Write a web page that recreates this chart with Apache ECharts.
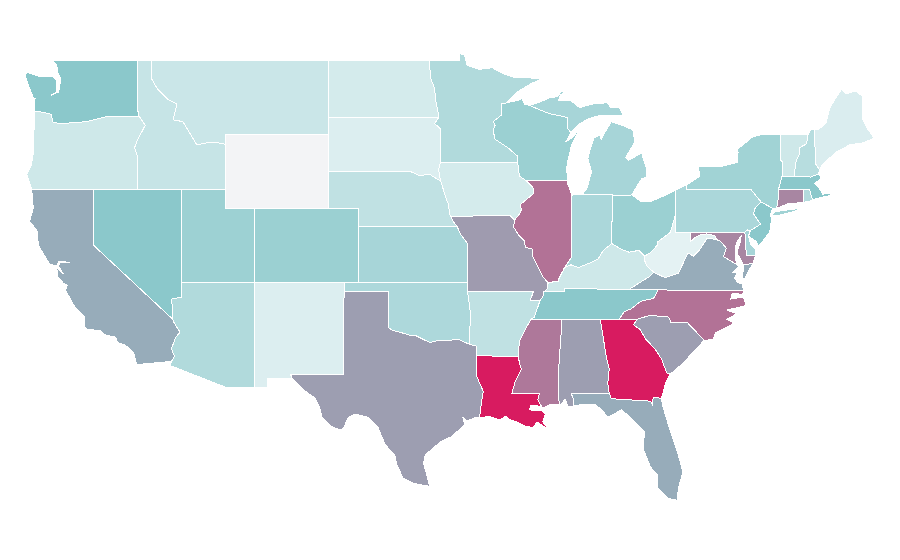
<!DOCTYPE html>
<html>
<head>
<meta charset="utf-8">
<style>
html,body{margin:0;padding:0;background:#fff}
#container{width:900px;height:560px}
#container path{shape-rendering:crispEdges}
</style>
<script src="https://cdn.jsdelivr.net/npm/echarts@6/dist/echarts.min.js"></script>
</head>
<body>
<div id="container"></div>
<script>
let chart = echarts.init(document.getElementById('container'), null, {renderer: 'svg'});

// values per state. WY has no value
var west = ['WA', 'OR', 'CA', 'NV', 'ID', 'MT', 'WY', 'UT', 'CO', 'AZ', 'NM'];
var westValues = [50, 17, 58, 50, 21, 19, null, 41, 42, 31, 10];
var plains = ['ND', 'SD', 'NE', 'KS', 'OK', 'TX', 'MN', 'IA', 'MO', 'AR', 'LA'];
var plainsValues = [14, 10, 24, 36, 33, 62, 31, 14, 63, 24, 100];
var midEast = ['WI', 'IL', 'IN', 'MI', 'OH', 'KY', 'TN', 'MS', 'AL', 'GA', 'FL'];
var midEastValues = [42, 75, 34, 36, 42, 17, 50, 73, 62, 100, 58];
var east = ['SC', 'NC', 'VA', 'WV', 'MD', 'DE', 'PA', 'NJ', 'NY', 'CT', 'RI', 'MA', 'VT', 'NH', 'ME'];
var eastValues = [62, 75, 58, 6, 69, 36, 34, 50, 39, 69, 30, 50, 17, 28, 11];

// shared borders, lon,lat
var b = {
  wa_top: '-122.76,49 -117.03,49',
  wa_coast: '-122.76,49 -122.5,48.75 -122.45,48.35 -122.25,48.05 -122.3,47.6 -122.4,47.3 -122.9,47.12 -122.55,47.3 -122.5,47.7 -122.55,47.95 -122.8,48.13 -123.15,48.15 -123.7,48.15 -124.55,48.38 -124.65,48.17 -124.4,47.6 -124.1,47 -123.95,46.95 -124.05,46.85 -124,46.27',
  wa_id: '-117.03,49 -117.04,46.42 -116.92,46',
  or_wa: '-124,46.27 -123.4,46.2 -122.9,46.1 -122.75,45.65 -122.2,45.6 -121.2,45.65 -120.5,45.7 -119.3,45.93 -118.98,46 -116.92,46',
  or_coast: '-124,46.27 -124.05,45.25 -124.1,44 -124.25,43.3 -124.55,42.84 -124.2,42',
  or_id: '-116.92,46 -116.5,45.5 -117,44.75 -117.22,44.3 -117.03,43.8 -117.03,42',
  ca_or: '-124.2,42 -120,42',
  nv_or: '-120,42 -117.03,42',
  nv_id: '-117.03,42 -114.05,42',
  ut_id: '-114.05,42 -111.05,42',
  ca_nv: '-120,42 -120,39 -114.63,35',
  ca_az: '-114.63,35 -114.57,34.85 -114.14,34.3 -114.45,34 -114.72,33.4 -114.52,33 -114.72,32.72',
  ca_coast: '-114.72,32.72 -117.07,32.55 -117.3,33.2 -117.85,33.6 -118.4,33.75 -118.5,34.03 -119.2,34.15 -119.6,34.4 -120.45,34.45 -120.65,34.6 -120.65,35.15 -121.3,35.7 -121.9,36.55 -121.8,36.85 -122.05,36.95 -122.45,37.3 -122.5,37.78 -122.05,37.45 -122.4,37.9 -122.3,38.05 -121.6,38.07 -122.35,38.15 -122.5,37.88 -123,38 -123.75,39 -123.85,39.8 -124.35,40.3 -124.1,41 -124.2,42',
  nv_ut: '-114.05,42 -114.05,37',
  nv_az: '-114.05,37 -114.05,36.2 -114.7,36.1 -114.63,35',
  ut_az: '-114.05,37 -109.05,37',
  az_nm: '-109.05,37 -109.05,31.33',
  az_south: '-109.05,31.33 -111.07,31.33 -114.82,32.5 -114.72,32.72',
  ut_wy: '-111.05,42 -111.05,41 -109.05,41',
  ut_co: '-109.05,41 -109.05,37',
  co_nm: '-109.05,37 -103,37',
  co_ok: '-103,37 -102.05,37',
  nm_ok: '-103,37 -103,36.5',
  nm_tx: '-103,36.5 -103.06,32 -106.62,32 -106.53,31.78',
  nm_south: '-106.53,31.78 -108.21,31.78 -108.21,31.33 -109.05,31.33',
  id_top: '-117.03,49 -116.05,49',
  id_mt: '-116.05,49 -116.05,48 -115.7,47.5 -114.95,46.9 -114.35,46.65 -114.6,45.8 -113.95,45.7 -113.45,45.05 -113,44.45 -112.3,44.55 -111.5,44.55 -111.05,44.47',
  id_wy: '-111.05,44.47 -111.05,42',
  mt_top: '-116.05,49 -104.05,49',
  mt_wyw: '-111.05,45 -111.05,44.47',
  mt_wy: '-111.05,45 -104.05,45',
  mt_nd: '-104.05,49 -104.05,45.94',
  mt_sd: '-104.05,45.94 -104.05,45',
  sd_wy: '-104.05,45 -104.05,43',
  ne_wy: '-104.05,43 -104.05,41',
  co_wy: '-109.05,41 -104.05,41',
  co_ne: '-104.05,41 -102.05,41 -102.05,40',
  co_ks: '-102.05,40 -102.05,37',
  nd_top: '-104.05,49 -97.23,49',
  nd_sd: '-104.05,45.94 -96.56,45.94',
  nd_mn: '-97.23,49 -97.1,48 -96.85,47.5 -96.8,46.9 -96.56,46 -96.56,45.94',
  sd_mn: '-96.56,45.94 -96.85,45.6 -96.45,45.3 -96.45,43.5',
  sd_ia: '-96.45,43.5 -96.58,43.1 -96.45,42.49',
  sd_ne: '-104.05,43 -98.5,43 -97.9,42.78 -97.2,42.85 -96.7,42.6 -96.45,42.49',
  ne_ia: '-96.45,42.49 -96.27,42.05 -96.1,41.6 -95.9,41.2 -95.85,40.68 -95.77,40.58',
  ne_mo: '-95.77,40.58 -95.55,40.26 -95.31,40',
  ne_ks: '-102.05,40 -95.31,40',
  ks_mo: '-95.31,40 -95.1,39.6 -94.9,39.4 -94.62,39.1 -94.62,37',
  ks_ok: '-102.05,37 -94.62,37',
  mo_ok: '-94.62,37 -94.62,36.5',
  ar_ok: '-94.62,36.5 -94.43,35.4 -94.48,33.64',
  ok_tx: '-103,36.5 -100,36.5 -100,34.56 -99.7,34.4 -99.2,34.3 -98.6,34.15 -98.1,34.1 -97.6,33.9 -97.15,33.75 -96.6,33.85 -95.9,33.87 -95.2,33.9 -94.48,33.64',
  ar_tx: '-94.48,33.64 -94.04,33.55 -94.04,33.02',
  tx_la: '-94.04,33.02 -94.04,32 -93.8,31.55 -93.55,31.1 -93.7,30.4 -93.72,30.05 -93.84,29.69',
  tx_coast: '-93.84,29.69 -94.1,29.67 -94.7,29.5 -94.95,29.7 -94.8,29.3 -95.7,28.65 -96.4,28.4 -97,28 -97.5,27.65 -97.6,27.2 -97.4,26.6 -97.2,25.96',
  rio: '-97.2,25.96 -98.2,26.1 -99,26.4 -99.45,27.2 -99.55,27.65 -100.2,28.2 -100.7,29.15 -101.4,29.7 -102.25,29.87 -102.7,29.7 -103.05,29.1 -103.25,29 -103.85,29.2 -104.5,29.7 -104.65,30.2 -105,30.75 -105.8,31.2 -106.53,31.78',
  mn_top: '-97.23,49 -95.15,49 -95.15,49.38 -94.82,49.32 -94.64,48.74 -93.8,48.53 -92.95,48.62 -92.2,48.3 -91.4,48.07 -90.75,48.1 -89.6,48',
  mn_shore: '-89.6,48 -90.33,47.75 -91.26,47.29 -92.02,46.71',
  mn_wi: '-92.02,46.71 -92.29,46.66 -92.29,46.08 -92.87,45.7 -92.75,45.5 -92.88,45.2 -92.75,44.75 -91.9,44.3 -91.25,43.85 -91.22,43.5',
  mn_ia: '-96.45,43.5 -91.22,43.5',
  ia_wi: '-91.22,43.5 -91.1,42.75 -90.64,42.51',
  ia_il: '-90.64,42.51 -90.15,42.1 -90.15,41.8 -90.6,41.5 -91.05,41.2 -90.95,40.95 -91.1,40.7 -91.42,40.38',
  ia_mo: '-95.77,40.58 -91.73,40.61 -91.42,40.38',
  mo_il: '-91.42,40.38 -91.5,40 -91.1,39.5 -90.75,39.25 -90.7,38.9 -90.2,38.8 -90.2,38.4 -89.9,37.95 -89.5,37.3 -89.15,36.98',
  mo_ky: '-89.15,36.98 -89.2,36.65 -89.42,36.5',
  mo_tn: '-89.42,36.5 -89.5,36.25 -89.7,36',
  mo_ar: '-94.62,36.5 -90.15,36.5 -90.37,36 -89.7,36',
  ar_tn: '-89.7,36 -90.1,35.1 -90.3,35',
  ar_ms: '-90.3,35 -90.6,34.6 -91.05,33.9 -91.15,33.4 -91.17,33',
  ar_la: '-94.04,33.02 -91.17,33',
  la_ms: '-91.17,33 -91.08,32.55 -90.95,32.3 -91.4,31.6 -91.6,31 -89.73,31 -89.85,30.65 -89.53,30.18',
  la_coast: '-89.53,30.18 -89.75,30.3 -90.35,30.35 -90.4,30.1 -89.85,30.05 -89.6,30.05 -89.35,29.85 -89.5,29.45 -89.15,29.05 -89.9,29.45 -90.15,29.15 -90.7,29.2 -91.3,29.45 -91.7,29.55 -92.05,29.75 -92.4,29.55 -93.1,29.73 -93.84,29.69',
  ms_coast: '-88.4,30.37 -89,30.38 -89.53,30.18',
  ms_al: '-88.4,30.37 -88.47,31.9 -88.2,35',
  tn_ms: '-90.3,35 -88.2,35',
  tn_al: '-88.2,35 -85.6,34.98',
  tn_ga: '-85.6,34.98 -84.32,34.99',
  tn_nc: '-84.32,34.99 -84,35.4 -83.5,35.57 -82.9,35.95 -82.6,36.03 -82,36.12 -81.68,36.59',
  tn_ky: '-89.42,36.5 -88.07,36.5 -88.07,36.68 -83.68,36.6',
  tn_va: '-83.68,36.6 -81.68,36.59',
  nc_va: '-81.68,36.59 -75.87,36.55',
  ky_va: '-83.68,36.6 -83.1,36.9 -82.3,37.3 -81.97,37.54',
  ky_wv: '-81.97,37.54 -82.4,37.85 -82.6,38.17 -82.59,38.42',
  ky_oh: '-82.59,38.42 -83,38.73 -83.65,38.63 -84.2,38.8 -84.82,39.1',
  ky_in: '-84.82,39.1 -85.4,38.73 -85.75,38.27 -86.3,38.05 -87.1,37.8 -87.6,37.95 -88.03,37.8',
  ky_il: '-88.03,37.8 -88.45,37.15 -88.45,37.07 -89.15,36.98',
  in_il: '-88.03,37.8 -87.53,38.4 -87.53,39.35 -87.53,41.72',
  il_shore: '-87.53,41.72 -87.8,42.3 -87.8,42.49',
  in_shore: '-87.53,41.72 -87.2,41.75 -86.82,41.76',
  il_wi: '-90.64,42.51 -87.8,42.49',
  wi_shore: '-87.8,42.49 -87.9,43.1 -87.8,43.6 -87.55,44.45 -87.05,45.25 -87.5,44.85 -87.95,44.6 -87.6,45.1',
  wi_mi: '-87.6,45.1 -87.85,45.35 -87.8,45.9 -88.1,45.97 -89.1,46.14 -90.4,46.57',
  wi_sup: '-90.4,46.57 -90.75,46.65 -90.95,46.95 -91.2,46.85 -92.02,46.71',
  mi_up: '-90.4,46.57 -89.6,46.8 -89,47 -88.5,47.05 -88.3,47.3 -87.8,47.45 -88.3,47.15 -88.45,46.85 -87.65,46.87 -87,46.45 -86.2,46.65 -85.15,46.72 -84.9,46.48 -84.3,46.45 -84.05,46.05 -84.95,46.05 -85.6,46.05 -86.4,45.85 -87.1,45.55 -87.6,45.1',
  mi_lp: '-86.82,41.76 -86.5,42.1 -86.2,43 -86.45,43.7 -86.3,44.2 -86.05,44.8 -85.6,45 -85.55,44.75 -85.2,45.25 -84.85,45.7 -84.1,45.5 -83.4,45.25 -83.25,44.6 -83.9,43.75 -83.7,43.6 -82.8,44 -82.45,43.1 -82.5,42.7 -82.8,42.6 -83.2,42.1 -83.45,41.73',
  mi_oh: '-83.45,41.73 -84.8,41.7',
  mi_in: '-84.8,41.7 -84.8,41.76 -86.82,41.76',
  in_oh: '-84.8,41.7 -84.82,39.1',
  oh_lake: '-83.45,41.73 -82.9,41.4 -82.1,41.4 -81.1,41.75 -80.52,41.98',
  oh_pa: '-80.52,41.98 -80.52,40.64',
  oh_wv: '-80.52,40.64 -80.7,40.1 -80.85,39.7 -81.7,39.2 -81.75,39 -82.2,38.6 -82.59,38.42',
  pa_lake: '-80.52,41.98 -79.76,42.27',
  pa_ny: '-79.76,42.27 -79.76,42 -75.35,42 -74.7,41.36',
  pa_nj: '-74.7,41.36 -75.13,40.98 -75.2,40.7 -74.72,40.15 -75.42,39.8',
  pa_de: '-75.42,39.8 -75.6,39.84 -75.79,39.72',
  pa_md: '-75.79,39.72 -79.48,39.72',
  pa_wv: '-79.48,39.72 -80.52,39.72 -80.52,40.64',
  wv_md: '-79.48,39.72 -79.48,39.2 -79.1,39.47 -78.75,39.6 -78.4,39.62 -77.83,39.53 -77.72,39.32',
  wv_va: '-77.72,39.32 -78.35,39.4 -78.85,38.77 -79.3,38.42 -79.65,38.6 -80.3,37.5 -81.2,37.25 -81.97,37.54',
  md_va: '-77.72,39.32 -77.45,39.22 -77.05,38.85 -77.25,38.4 -76.95,38.25 -76.3,37.95',
  md_bay: '-76.3,37.95 -76.45,38.3 -76.45,38.9 -76.3,39.25 -76.05,39.5 -76.1,39.2 -76.25,38.85 -76.3,38.55 -76.1,38.3 -75.9,37.95 -75.62,37.98 -75.25,38.03 -75.05,38.45',
  md_de: '-75.05,38.45 -75.69,38.46 -75.79,39.72',
  de_coast: '-75.05,38.45 -75.1,38.8 -75.4,39.05 -75.55,39.5 -75.42,39.8',
  va_coast: '-75.87,36.55 -75.97,36.9 -76.3,37 -76.5,37.25 -76.3,37.55 -76.6,37.55 -76.25,37.85 -76.3,37.95',
  va_shore: '-75.62,37.98 -75.25,38.03 -75.85,37.15 -75.95,37.3 -75.87,37.95 -75.62,37.98',
  nc_coast: '-75.87,36.55 -75.95,36.35 -76.65,36.4 -76.75,36.1 -75.9,36.2 -75.7,35.75 -77,35.5 -76.35,35.3 -77,35 -76.5,34.8 -77.8,34.25 -77.95,33.9 -78.55,33.86',
  nc_sc: '-78.55,33.86 -79.67,34.8 -80.8,34.82 -80.95,35.1 -81.05,35.15 -82.3,35.2 -83.11,35',
  nc_ga: '-83.11,35 -84.32,34.99',
  sc_ga: '-83.11,35 -83.35,34.7 -82.9,34.45 -82.55,33.95 -81.9,33.4 -81.45,32.85 -81.1,32.1 -80.87,32.03',
  sc_coast: '-78.55,33.86 -79.1,33.4 -79.9,32.7 -80.45,32.3 -80.87,32.03',
  ga_coast: '-80.87,32.03 -81.15,31.6 -81.45,30.72',
  ga_fl: '-81.45,30.72 -82.02,30.78 -82.05,30.37 -82.2,30.57 -84.86,30.7 -85,31',
  ga_al: '-85,31 -85.1,31.55 -85,32.3 -85.18,32.87 -85.6,34.98',
  al_fl: '-85,31 -87.6,31 -87.4,30.65 -87.45,30.3',
  al_coast: '-87.45,30.3 -87.8,30.25 -88,30.7 -88.3,30.35 -88.4,30.37',
  fl_coast: '-81.45,30.72 -81.4,30.4 -80.95,29.2 -80.4,27.9 -80,26.75 -80.3,25.85 -80.4,25.2 -81,25.3 -81.7,25.85 -81.7,26.55 -82.2,27 -82.7,28 -82.6,28.9 -83.25,29.45 -84.15,30.1 -85.1,29.7 -85.5,30.1 -86,30.4 -86.8,30.4 -87.45,30.3',
  ny_lake: '-79.76,42.27 -78.85,42.75 -78.95,43.25 -77.5,43.25 -76.3,43.5 -76.25,44.05 -76.3,44.2 -75.3,44.85 -74.7,45 -73.35,45.01',
  ny_vt: '-73.35,45.01 -73.35,44.5 -73.4,43.6 -73.25,43.55 -73.27,42.75',
  ny_ma: '-73.27,42.75 -73.5,42.05',
  ny_ct: '-73.5,42.05 -73.55,41.3 -73.65,41',
  ny_nj: '-74.7,41.36 -73.9,41',
  long_island: '-74,40.6 -73.75,40.82 -72.6,40.95 -72.3,41.12 -72.5,40.95 -71.87,41.07 -72.5,40.82 -73.5,40.62 -74,40.6',
  nj_coast: '-73.9,41 -74.05,40.65 -73.98,40.4 -74.1,39.75 -74.4,39.4 -74.9,38.93 -75,39.2 -75.55,39.5 -75.42,39.8',
  ct_ma: '-73.5,42.05 -71.8,42.02',
  ct_ri: '-71.8,42.02 -71.79,41.6 -71.85,41.32',
  ct_coast: '-71.85,41.32 -72.9,41.25 -73.65,41',
  ri_ma: '-71.8,42.02 -71.38,42.02 -71.33,41.78 -71.2,41.5 -71.12,41.5',
  ri_coast: '-71.12,41.5 -71.4,41.4 -71.85,41.32',
  ma_vt: '-73.27,42.75 -72.46,42.73',
  ma_nh: '-72.46,42.73 -71.3,42.7 -70.82,42.87',
  ma_coast: '-70.82,42.87 -70.6,42.65 -71.05,42.35 -70.65,42 -70.5,41.78 -70,41.8 -70.1,42.05 -69.95,41.7 -70.6,41.6 -71.12,41.5',
  vt_top: '-73.35,45.01 -71.5,45.01',
  vt_nh: '-71.5,45.01 -71.6,44.5 -72.05,44.3 -72.05,44 -72.3,43.6 -72.46,42.73',
  nh_top: '-71.5,45.01 -71.3,45.3 -71.08,45.3',
  nh_me: '-71.08,45.3 -70.98,43.4 -70.7,43.07',
  nh_coast: '-70.7,43.07 -70.82,42.87',
  me_out: '-71.08,45.3 -70.85,45.25 -70.3,45.6 -70,46.5 -69.23,47.46 -68.9,47.2 -68.3,47.36 -67.79,47.07 -67.79,45.8 -67.45,45.3 -67,44.8 -67.8,44.55 -68.65,44.45 -69.6,44.05 -70.55,43.35 -70.7,43.07'
};

// a state is its borders walked in order, - means walk it backwards
var rings = {
  WA: ['wa_top wa_id -or_wa -wa_coast'],
  OR: ['or_wa or_id -nv_or -ca_or -or_coast'],
  CA: ['ca_or ca_nv ca_az ca_coast'],
  NV: ['nv_or nv_id nv_ut nv_az -ca_nv'],
  ID: ['id_top id_mt id_wy -ut_id -nv_id -or_id -wa_id'],
  MT: ['mt_top mt_nd mt_sd -mt_wy mt_wyw -id_mt'],
  WY: ['mt_wy sd_wy ne_wy -co_wy -ut_wy -id_wy -mt_wyw'],
  UT: ['ut_id ut_wy ut_co -ut_az -nv_ut'],
  CO: ['co_wy co_ne co_ks -co_ok -co_nm -ut_co'],
  AZ: ['ut_az az_nm az_south -ca_az -nv_az'],
  NM: ['co_nm nm_ok nm_tx nm_south -az_nm'],
  ND: ['nd_top nd_mn -nd_sd -mt_nd'],
  SD: ['nd_sd sd_mn sd_ia -sd_ne -sd_wy -mt_sd'],
  NE: ['sd_ne ne_ia ne_mo -ne_ks -co_ne -ne_wy'],
  KS: ['ne_ks ks_mo -ks_ok -co_ks'],
  OK: ['-nm_ok co_ok ks_ok mo_ok ar_ok -ok_tx'],
  TX: ['ok_tx ar_tx tx_la tx_coast rio -nm_tx'],
  MN: ['mn_top mn_shore mn_wi -mn_ia -sd_mn -nd_mn'],
  IA: ['mn_ia ia_wi ia_il -ia_mo -ne_ia -sd_ia'],
  MO: ['ia_mo mo_il mo_ky mo_tn -mo_ar -mo_ok -ks_mo -ne_mo'],
  AR: ['mo_ar ar_tn ar_ms -ar_la -ar_tx -ar_ok'],
  LA: ['ar_la la_ms la_coast -tx_la'],
  WI: ['mn_wi ia_wi il_wi wi_shore wi_mi wi_sup'],
  IL: ['il_wi -il_shore -in_il ky_il -mo_il -ia_il'],
  IN: ['in_shore -mi_in in_oh ky_in in_il'],
  MI: ['mi_up wi_mi', 'mi_lp mi_oh mi_in'],
  OH: ['oh_lake oh_pa oh_wv ky_oh -in_oh -mi_oh'],
  KY: ['-mo_ky -ky_il -ky_in -ky_oh -ky_wv -ky_va -tn_ky'],
  TN: ['tn_ky tn_va -tn_nc -tn_ga -tn_al -tn_ms -ar_tn -mo_tn'],
  MS: ['tn_ms -ms_al ms_coast -la_ms -ar_ms'],
  AL: ['tn_al -ga_al al_fl al_coast ms_al'],
  GA: ['tn_ga -nc_ga sc_ga ga_coast ga_fl ga_al'],
  FL: ['fl_coast -al_fl -ga_fl'],
  SC: ['-nc_sc sc_coast -sc_ga'],
  NC: ['nc_va nc_coast nc_sc nc_ga tn_nc'],
  VA: ['nc_va va_coast -md_va wv_va -ky_va tn_va', 'va_shore'],
  WV: ['-oh_wv -pa_wv wv_md wv_va ky_wv'],
  MD: ['-pa_md -md_de -md_bay -md_va -wv_md'],
  DE: ['pa_de -md_de de_coast'],
  PA: ['pa_lake pa_ny pa_nj pa_de pa_md pa_wv -oh_pa'],
  NJ: ['ny_nj nj_coast -pa_nj'],
  NY: ['ny_lake ny_vt ny_ma ny_ct -ny_nj -pa_ny', 'long_island'],
  CT: ['ct_ma ct_ri ct_coast -ny_ct'],
  RI: ['ri_ma ri_coast -ct_ri'],
  MA: ['ma_vt ma_nh ma_coast -ri_ma -ct_ma -ny_ma'],
  VT: ['vt_top vt_nh -ma_vt -ny_vt'],
  NH: ['nh_top nh_me nh_coast -ma_nh -vt_nh'],
  ME: ['me_out -nh_me']
};

function walk(spec) {
    var pts = [];
    spec.split(' ').forEach(function (part) {
        var back = part[0] == '-';
        var line = b[back ? part.slice(1) : part].split(' ').map(function (p) {
            return p.split(',').map(Number);
        });
        if (back) { line.reverse(); }
        pts = pts.concat(line);
    });
    pts.push(pts[0]);
    return pts;
}

var usa = {type: 'FeatureCollection', features: []};
for (var s in rings) {
    usa.features.push({
        type: 'Feature',
        properties: {name: s},
        geometry: {type: 'MultiPolygon', coordinates: rings[s].map(function (r) { return [walk(r)]; })}
    });
}
echarts.registerMap('USA', usa);

var names = west.concat(plains, midEast, east);
var values = westValues.concat(plainsValues, midEastValues, eastValues);

var option = {
    backgroundColor: '#fff',
    animation: false,
    visualMap: {
        show: false,
        min: 0,
        max: 100,
        inRange: {color: ['#f0f8f9', '#8bc8cb', '#d81b60']}
    },
    series: [{
        type: 'map',
        map: 'USA',
        silent: true,
        roam: false,
        aspectScale: 0.7975,
        boundingCoords: [[-126, 50], [-66, 24]],
        left: 5.3,
        top: 42.2,
        width: 883.8,
        height: 480.3,
        label: {show: false},
        itemStyle: {areaColor: '#f3f4f6', borderColor: '#fff', borderWidth: 1},
        data: names.map(function (n, i) { return {name: n, value: values[i]}; })
    }]
};
chart.setOption(option);
</script>
</body>
</html>
